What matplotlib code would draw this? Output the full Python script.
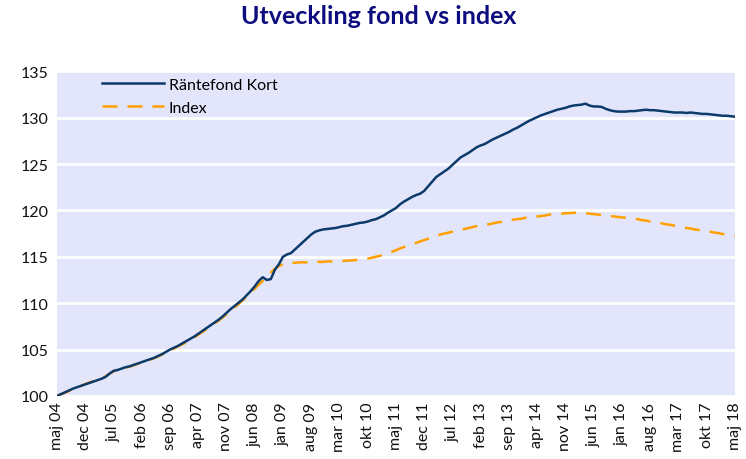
import matplotlib
matplotlib.use("Agg")
import matplotlib.pyplot as plt
import pandas as pd

# Monthly index values, May 2004 - May 2018 (start = 100)
fund_values = [
    100.0, 100.2, 100.4, 100.6, 100.8, 100.95, 101.1, 101.25, 101.4, 101.55,
    101.7, 101.85, 102.05, 102.4, 102.7, 102.8, 102.95, 103.1, 103.2, 103.35,
    103.5, 103.65, 103.8, 103.95, 104.1, 104.3, 104.5, 104.75, 105.0, 105.2,
    105.4, 105.65, 105.9, 106.15, 106.4, 106.7, 107.0, 107.3, 107.6, 107.9,
    108.2, 108.55, 108.95, 109.35, 109.7, 110.05, 110.4, 110.85, 111.3, 111.8,
    112.4, 112.8, 112.5, 112.6, 113.6, 114.2, 115.0, 115.25, 115.4, 115.8,
    116.2, 116.6, 117.0, 117.4, 117.7, 117.85, 117.95, 118.0, 118.05, 118.1,
    118.2, 118.3, 118.35, 118.45, 118.55, 118.65, 118.7, 118.8, 118.95, 119.05,
    119.25, 119.45, 119.75, 120.0, 120.25, 120.65, 120.95, 121.2, 121.45, 121.65,
    121.8, 122.1, 122.6, 123.1, 123.6, 123.9, 124.2, 124.5, 124.9, 125.3,
    125.7, 125.95, 126.2, 126.5, 126.8, 127.0, 127.15, 127.4, 127.65, 127.85,
    128.05, 128.25, 128.45, 128.7, 128.9, 129.15, 129.4, 129.65, 129.85, 130.05,
    130.25, 130.4, 130.55, 130.7, 130.85, 130.95, 131.05, 131.2, 131.3, 131.35,
    131.4, 131.5, 131.3, 131.2, 131.2, 131.15, 130.95, 130.8, 130.7, 130.65,
    130.65, 130.65, 130.7, 130.7, 130.75, 130.8, 130.85, 130.8, 130.8, 130.75,
    130.7, 130.65, 130.6, 130.55, 130.55, 130.55, 130.5, 130.55, 130.5, 130.45,
    130.4, 130.4, 130.35, 130.3, 130.25, 130.2, 130.2, 130.15, 130.1,
]

index_values = [
    100.0, 100.2, 100.35, 100.55, 100.75, 100.9, 101.1, 101.3, 101.45, 101.6,
    101.75, 101.9, 102.1, 102.4, 102.65, 102.8, 102.95, 103.05, 103.15, 103.3,
    103.45, 103.6, 103.75, 103.9, 104.05, 104.25, 104.45, 104.65, 104.9, 105.1,
    105.35, 105.55, 105.8, 106.05, 106.3, 106.6, 106.9, 107.2, 107.5, 107.8,
    108.1, 108.45, 108.8, 109.2, 109.55, 109.9, 110.3, 110.7, 111.15, 111.55,
    112.0, 112.4, 112.8, 113.3, 113.7, 114.0, 114.2, 114.3, 114.35, 114.35,
    114.4, 114.4, 114.4, 114.45, 114.45, 114.45, 114.45, 114.5, 114.5, 114.5,
    114.55, 114.55, 114.6, 114.6, 114.65, 114.7, 114.75, 114.8, 114.9, 115.0,
    115.1, 115.25, 115.4, 115.55, 115.7, 115.9, 116.05, 116.2, 116.35, 116.5,
    116.65, 116.8, 116.95, 117.1, 117.25, 117.4, 117.5, 117.6, 117.7, 117.8,
    117.9, 118.0, 118.1, 118.2, 118.3, 118.35, 118.45, 118.5, 118.6, 118.7,
    118.75, 118.85, 118.9, 119.0, 119.05, 119.1, 119.2, 119.25, 119.3, 119.35,
    119.4, 119.45, 119.55, 119.6, 119.65, 119.65, 119.7, 119.7, 119.75, 119.75,
    119.75, 119.7, 119.65, 119.6, 119.55, 119.5, 119.45, 119.4, 119.35, 119.3,
    119.25, 119.2, 119.15, 119.1, 119.05, 118.95, 118.9, 118.8, 118.75, 118.7,
    118.6, 118.5, 118.45, 118.35, 118.3, 118.2, 118.1, 118.05, 117.95, 117.9,
    117.8, 117.75, 117.7, 117.6, 117.55, 117.45, 117.4, 117.3, 117.25,
]

month_names = ["jan", "feb", "mar", "apr", "maj", "jun",
               "jul", "aug", "sep", "okt", "nov", "dec"]
dates = pd.date_range("2004-05-01", periods=len(fund_values), freq="MS")
date_labels = [f"{month_names[d.month - 1]} {d.year % 100:02d}" for d in dates]

plt.rcParams["font.family"] = ["Lato", "DejaVu Sans"]

fig = plt.figure(figsize=(7.46, 4.60), dpi=100)
ax = fig.add_axes([0.0764, 0.137, 0.9086, 0.706])
ax.set_facecolor("#E3E6FB")

x = list(range(len(fund_values)))
ax.plot(x, fund_values, color="#0B3A6B", lw=1.8, label="Räntefond Kort",
        solid_joinstyle="round", zorder=3)
ax.plot(x, index_values, color="#FFA000", lw=1.8, ls=(0, (6, 4)),
        label="Index", zorder=2)

ax.set_xlim(0, len(x) - 1)
ax.set_ylim(100, 135)
ax.set_yticks(range(100, 136, 5))
ax.set_xticks(x[::7])
ax.set_xticklabels(date_labels[::7], rotation=90)
ax.tick_params(axis="both", length=0, labelsize=11.5, colors="#111111")
ax.tick_params(axis="x", pad=4)
ax.tick_params(axis="y", pad=6)
ax.grid(axis="y", color="white", lw=2)
ax.set_axisbelow(True)
for s in ax.spines.values():
    s.set_visible(False)

leg = ax.legend(loc="upper left", bbox_to_anchor=(0.045, 1.025), frameon=False,
                fontsize=11.5, handlelength=3.9, handletextpad=0.3,
                labelspacing=0.55)

fig.suptitle("Utveckling fond vs index", x=0.507, y=0.99, fontsize=18,
             fontweight="bold", color="#0D0D80")

fig.savefig("out.png", dpi=100)
